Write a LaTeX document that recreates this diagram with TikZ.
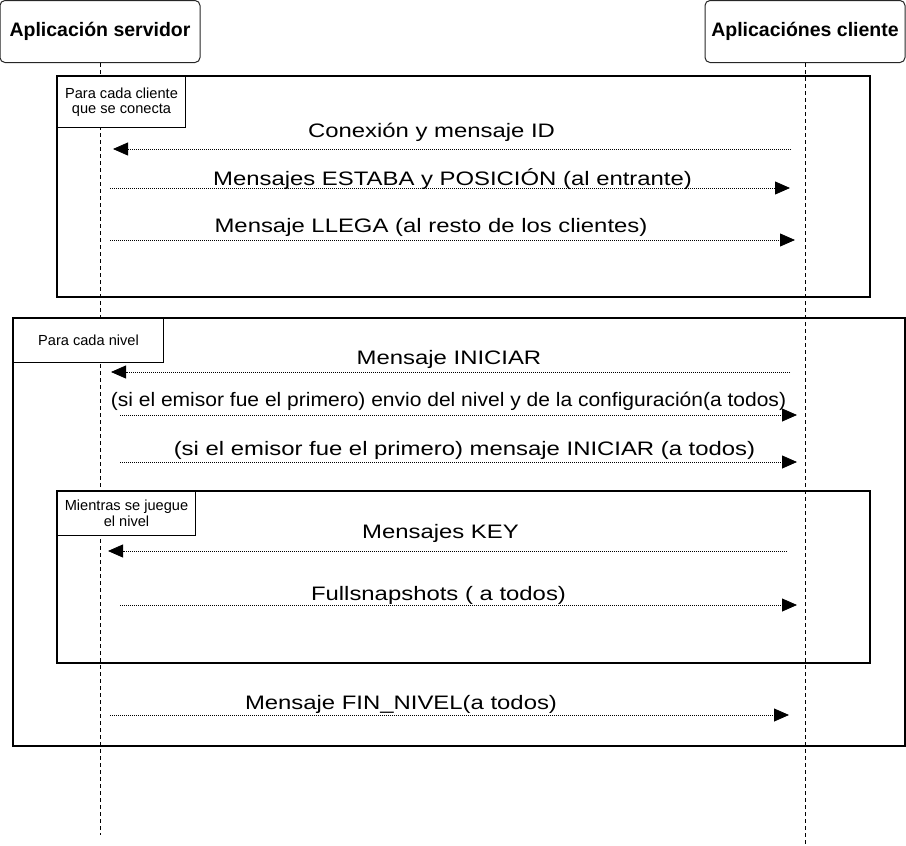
\documentclass[tikz,border=0pt]{standalone}
\usepackage{fontspec}
\setmainfont{Liberation Sans}
\newfontfamily\msgfont[FakeStretch=1.225]{Liberation Sans}
\newfontfamily\envfont[FakeStretch=1.078]{Liberation Sans}
\usetikzlibrary{arrows.meta}
\begin{document}
\begin{tikzpicture}[x=1pt,y=-1pt,
 actor/.style={draw=black!85, line width=1pt, rounded corners=5pt, minimum width=200pt, minimum height=62pt, font=\bfseries\fontsize{19.5}{23}\selectfont, inner sep=0pt},
 lifeline/.style={line width=1pt, dash pattern=on 4pt off 3pt},
 frame/.style={draw, line width=1.2pt},
 flabel/.style={draw, fill=white, line width=1pt, anchor=north west, align=center, font=\fontsize{14.6}{15.5}\selectfont, inner sep=0pt},
 msg/.style={anchor=base, font=\msgfont\fontsize{19.5}{23}\selectfont, inner sep=0pt},
 call/.style={line width=0.8pt, dash pattern=on 1pt off 1pt, -{Triangle[length=15pt,width=13pt]}},
]
\useasboundingbox (0,0) rectangle (906,846);

% frames
\draw[frame] (57,76) rectangle (870,297);
\draw[frame] (13,318) rectangle (905,746);
\draw[frame] (57,491) rectangle (870,663);

% actors and lifelines
\node[actor] (srv) at (100,31.5) {Aplicación servidor};
\node[actor] (cli) at (805,31.5) {Aplicaciónes cliente};
\coordinate (srvend) at (100,835);
\coordinate (cliend) at (805,846);
\draw[lifeline] (srv.south) -- (srvend);
\draw[lifeline] (cli.south) -- (cliend);

% frame labels
\node[flabel, minimum width=128pt, minimum height=51pt] (l1) at (57,76) {Para cada cliente\\que se conecta};
\node[flabel, minimum width=150pt, minimum height=44pt] (l2) at (13,318) {Para cada nivel};
\node[flabel, minimum width=138pt, minimum height=44pt] (l3) at (57,491) {Mientras se juegue\\el nivel};

% message endpoints
\coordinate (m1a) at (791,149); \coordinate (m1b) at (113,149);
\coordinate (m2a) at (110,188); \coordinate (m2b) at (790,188);
\coordinate (m3a) at (110,240); \coordinate (m3b) at (795,240);
\coordinate (m4a) at (790,372); \coordinate (m4b) at (111,372);
\coordinate (m5a) at (120,415); \coordinate (m5b) at (797,415);
\coordinate (m6a) at (120,462); \coordinate (m6b) at (797,462);
\coordinate (m7a) at (787,551); \coordinate (m7b) at (108,551);
\coordinate (m8a) at (120,605); \coordinate (m8b) at (797,605);
\coordinate (m9a) at (110,715); \coordinate (m9b) at (789,715);

\draw[call] (m1a) -- (m1b);
\draw[call] (m2a) -- (m2b);
\draw[call] (m3a) -- (m3b);
\draw[call] (m4a) -- (m4b);
\draw[call] (m5a) -- (m5b);
\draw[call] (m6a) -- (m6b);
\draw[call] (m7a) -- (m7b);
\draw[call] (m8a) -- (m8b);
\draw[call] (m9a) -- (m9b);

% message labels
\node[msg] (t1) at (431.5,137) {Conexión y mensaje ID};
\node[msg] (t2) at (452.5,185) {Mensajes ESTABA y POSICIÓN (al entrante)};
\node[msg] (t3) at (431,232) {Mensaje LLEGA (al resto de los clientes)};
\node[msg] (t4) at (449,364) {Mensaje INICIAR};
\node[msg, font=\envfont\fontsize{19.5}{23}\selectfont] (t5) at (448.5,406) {(si el emisor fue el primero) envio del nivel y de la configuración(a todos)};
\node[msg] (t6) at (464.5,455) {(si el emisor fue el primero) mensaje INICIAR (a todos)};
\node[msg] (t7) at (440.5,538) {Mensajes KEY};
\node[msg] (t8) at (438.5,600) {Fullsnapshots ( a todos)};
\node[msg] (t9) at (401,709) {Mensaje FIN\_NIVEL(a todos)};
\end{tikzpicture}
\end{document}
